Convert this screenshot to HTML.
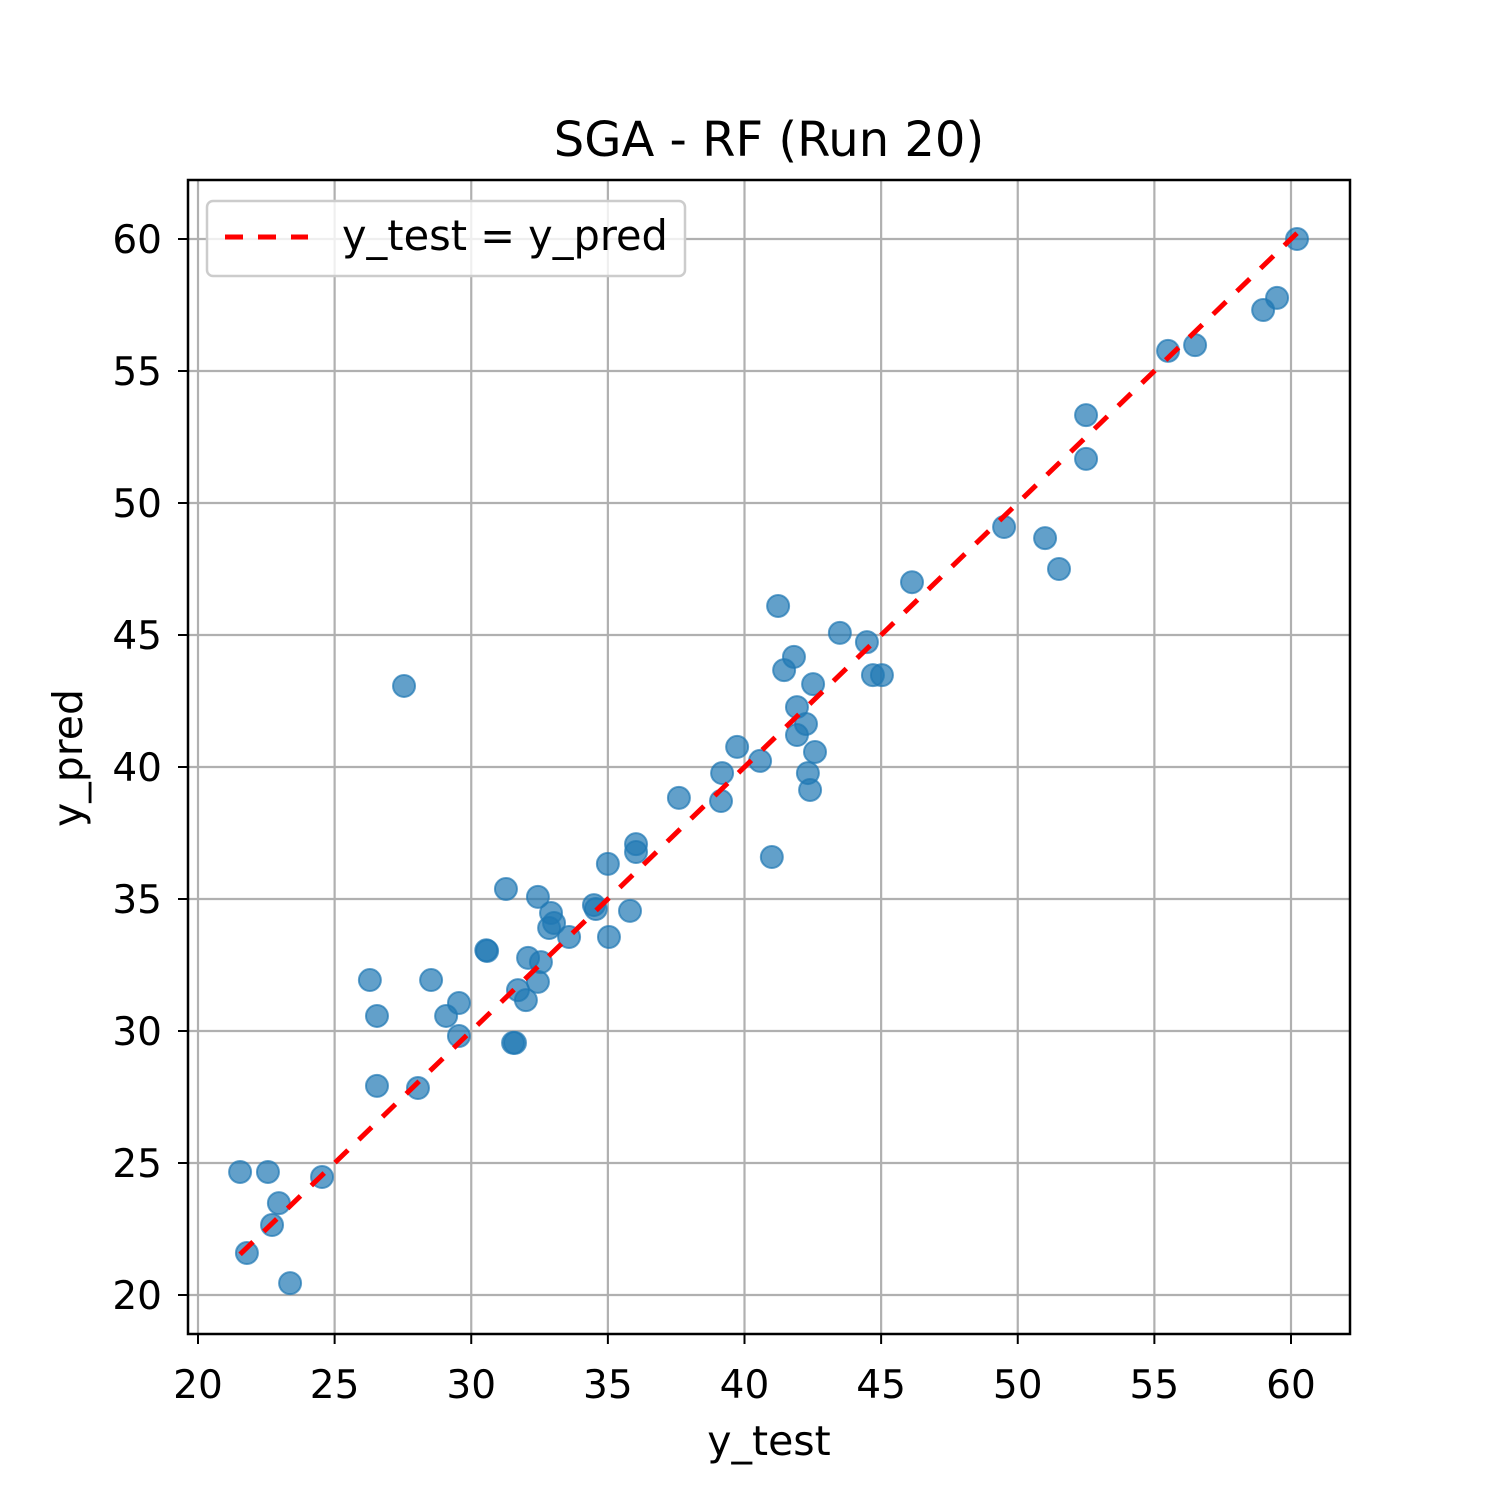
<!DOCTYPE html>
<html><head><meta charset="utf-8"><style>
body{margin:0;background:#fff}
svg text{font-family:"DejaVu Sans","Liberation Sans",sans-serif;fill:#000}
</style></head><body>
<svg id="chart" width="1500" height="1500" viewBox="0 0 1500 1500" xmlns="http://www.w3.org/2000/svg">
<rect width="1500" height="1500" fill="#fff"/>
<text x="769" y="156" font-size="48" text-anchor="middle">SGA - RF (Run 20)</text>
<g id="grid"></g>
<g id="points"></g>
<g id="diag"></g>
<rect x="188" y="180" width="1162" height="1154" fill="none" stroke="#000" stroke-width="2.5"/>
<g id="ticks"></g>
<text x="769" y="1455" font-size="41" text-anchor="middle">y_test</text>
<text transform="translate(82,758) rotate(-90)" font-size="41" text-anchor="middle">y_pred</text>
<g>
<rect x="207" y="201" width="478" height="75" rx="6" fill="#fff" fill-opacity="0.8" stroke="#ccc" stroke-width="2.5"/>
<line x1="225" y1="237" x2="308" y2="237" stroke="#f00" stroke-width="5" stroke-dasharray="18,15"/>
<text x="342" y="250" font-size="41.5">y_test = y_pred</text>
</g>
</svg>
<script>
const yTest=[21.54,22.56,21.79,22.96,22.71,23.37,24.54,26.29,26.55,26.55,27.54,28.05,28.53,29.08,29.55,29.55,30.58,30.55,31.27,31.53,31.6,31.71,32.0,32.08,32.44,32.44,32.55,32.92,32.85,33.03,33.58,34.49,34.56,35.0,35.04,35.81,36.03,36.03,37.6,39.14,39.18,39.73,40.57,41.0,41.23,41.45,41.81,41.92,41.92,42.25,42.32,42.4,42.51,42.58,43.49,44.48,44.7,45.03,46.13,49.5,51.0,51.51,52.5,52.5,55.5,56.49,58.98,59.49,60.22];
const yPred=[24.66,24.66,21.59,23.48,22.65,20.45,24.47,31.93,30.57,27.92,43.07,27.84,31.93,30.57,31.06,29.81,33.03,33.06,35.38,29.55,29.55,31.55,31.17,32.77,35.08,31.86,32.61,34.47,33.9,34.09,33.56,34.77,34.62,36.33,33.56,34.55,37.08,36.78,38.83,38.71,39.77,40.76,40.23,36.59,46.1,43.67,44.17,42.27,41.21,41.63,39.77,39.13,43.14,40.57,45.08,44.73,43.48,43.48,47.0,49.09,48.67,47.5,53.33,51.67,55.76,55.98,57.31,57.77,60.0];
const xTicks=[20,25,30,35,40,45,50,55,60];
const yTicks=[20,25,30,35,40,45,50,55,60];
const NS='http://www.w3.org/2000/svg';
const X=v=>198+(v-20)*27.325;
const Y=v=>1295-(v-20)*26.4;
function mk(tag,attrs,parent){const e=document.createElementNS(NS,tag);for(const k in attrs)e.setAttribute(k,attrs[k]);parent.appendChild(e);return e;}
const grid=document.getElementById('grid'),ticks=document.getElementById('ticks'),pts=document.getElementById('points'),diag=document.getElementById('diag');
xTicks.forEach(t=>{
 const g=mk('line',{x1:X(t),x2:X(t),y1:180,y2:1334,stroke:'#b0b0b0','stroke-width':2.2},grid);
 
 
 const tk=mk('line',{x1:X(t),x2:X(t),y1:1334,y2:1344,stroke:'#000','stroke-width':2},ticks);
 
 
 const tx=mk('text',{x:X(t),y:1398,'font-size':39,'text-anchor':'middle'},ticks);
 tx.textContent=t;
 
 
});
yTicks.forEach(t=>{
 const g=mk('line',{x1:188,x2:1350,y1:Y(t),y2:Y(t),stroke:'#b0b0b0','stroke-width':2.2},grid);
 
 
 const tk=mk('line',{x1:178,x2:188,y1:Y(t),y2:Y(t),stroke:'#000','stroke-width':2},ticks);
 
 
 const tx=mk('text',{x:162,y:Y(t)+14,'font-size':39,'text-anchor':'end'},ticks);
 tx.textContent=t;
 
 
});
yTest.forEach((v,i)=>{
 const c=mk('circle',{cx:X(v),cy:Y(yPred[i]),r:11,fill:'#1f77b4','fill-opacity':0.7,stroke:'#1f77b4','stroke-opacity':0.7,'stroke-width':2},pts);
 
 
});
const mn=Math.min(...yTest),mx=Math.max(...yTest);
const l=mk('line',{x1:X(mn),y1:Y(mn),x2:X(mx),y2:Y(mx),stroke:'#f00','stroke-width':5,'stroke-dasharray':'18,15'},diag);


</script>
</body></html>
